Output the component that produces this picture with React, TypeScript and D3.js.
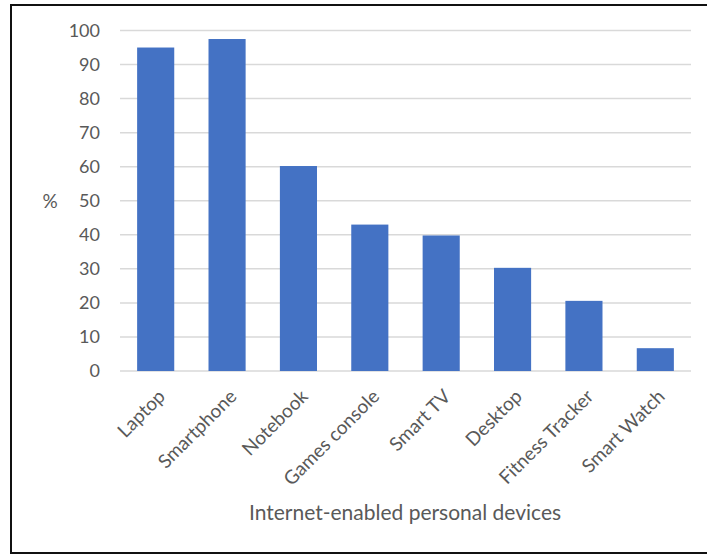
import React from "react";
import * as d3 from "d3";

// Share of respondents owning each internet-enabled device (%)
const categories = [
  "Laptop",
  "Smartphone",
  "Notebook",
  "Games console",
  "Smart TV",
  "Desktop",
  "Fitness Tracker",
  "Smart Watch",
];
const values = [95, 97.5, 60.2, 43, 39.8, 30.3, 20.6, 6.7];
const yTicks = [0, 10, 20, 30, 40, 50, 60, 70, 80, 90, 100];
const yLabel = "%";
const xTitle = "Internet-enabled personal devices";

const W = 707;
const H = 554;
const plot = { left: 120, right: 691, top: 30.5, bottom: 371 };
const FONT = "Lato, 'Open Sans', sans-serif";
const TEXT = "#595959";

export default function App() {
  const x = d3
    .scaleBand<string>()
    .domain(categories)
    .range([plot.left, plot.right])
    .paddingInner(0.48)
    .paddingOuter(0.24);
  const y = d3.scaleLinear().domain([0, 100]).range([plot.bottom, plot.top]);

  return (
    <svg
      width={W}
      height={H}
      style={{ position: "absolute", left: 0, top: 0, background: "#fff" }}
      fontFamily={FONT}
    >
      <rect x={0} y={0} width={W} height={H} fill="#fff" />
      <rect x={11} y={5} width={730} height={548} fill="none" stroke="#111" strokeWidth={2} />

      {yTicks.map((t) => (
        <g key={t}>
          <line
            x1={plot.left}
            x2={plot.right}
            y1={y(t)}
            y2={y(t)}
            stroke="#d9d9d9"
            strokeWidth={1.5}
          />
          <text
            x={100}
            y={y(t)}
            dy="0.36em"
            textAnchor="end"
            fontSize={18}
            fill={TEXT}
          >
            {t}
          </text>
        </g>
      ))}

      {categories.map((c, i) => (
        <rect
          key={c}
          x={x(c)}
          y={y(values[i])}
          width={x.bandwidth()}
          height={y(0) - y(values[i])}
          fill="#4472C4"
        />
      ))}

      {categories.map((c) => {
        const cx = (x(c) ?? 0) + x.bandwidth() / 2;
        return (
          <text
            key={c}
            transform={`translate(${cx + 1},${plot.bottom + 17}) rotate(-45)`}
            textAnchor="end"
            dy="0.72em"
            fontSize={19}
            fill={TEXT}
          >
            {c}
          </text>
        );
      })}

      <text x={50} y={201.5} dy="0.36em" textAnchor="middle" fontSize={19} fill={TEXT}>
        {yLabel}
      </text>
      <text x={405} y={520} textAnchor="middle" fontSize={21} fill={TEXT}>
        {xTitle}
      </text>
    </svg>
  );
}
